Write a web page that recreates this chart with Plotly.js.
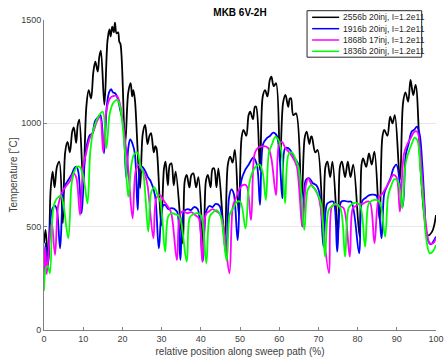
<!DOCTYPE html>
<html>
<head>
<meta charset="utf-8">
<script src="https://cdn.plot.ly/plotly-3.0.1.min.js"></script>
<style>html,body{margin:0;padding:0;background:#fff}#chart{width:445px;height:358px}</style>
</head>
<body>
<div id="chart"></div>
<script>
// ---- data ----
const seriesNames = ["2556b 20inj, I=1.2e11", "1916b 20inj, I=1.2e11", "1868b 17inj, I=1.2e11", "1836b 20inj, I=1.2e11"];
const seriesColors = ["#000000", "#0000ff", "#ff00ff", "#00ff00"];

const blackX = [0,0.4,1.1,1.7,2.2,2.7,3.3,3.9,4.8,5.4,6.0,6.6,7.2,7.6,8.2,8.6,9.0,10.0,10.8,11.4,12.0,12.6,13.1,13.7,14.1,14.5,15.4,16.2,16.7,17.0,17.4,17.8,18.1,18.5,18.9,19.2,19.5,20.7,21.5,22.1,22.5,22.8,23.2,24.5,25.2,25.8,26.4,26.9,27.3,28.0,28.4,28.7,29.9,30.6,31.0,31.6,32.1,32.5,33.1,33.6,35.4,35.9,36.4,37.1,37.6,38.1,38.8,39.4,40.7,41.3,41.8,42.5,43.0,43.4,44.0,44.5,46.1,46.9,47.5,48.1,48.7,49.7,50.4,50.9,51.6,52.2,52.6,53.3,53.8,54.1,55.1,55.8,56.4,57.0,57.6,58.0,58.6,59.2,60.2,61.0,61.6,62.3,62.7,63.0,63.6,64.3,65.7,66.5,67.0,67.7,68.1,68.3,69.2,69.8,71.2,71.8,72.3,73.0,73.6,75.0,75.5,76.0,76.8,77.5,78.2,78.9,80.5,81.0,81.4,82.2,82.9,83.6,84.3,85.6,86.3,86.8,87.6,88.3,88.9,89.5,90.8,91.6,92.2,92.9,93.5,94.2,94.8,96.0,97.0,97.9,99.0,100.0];
const blackY = [420,484,320,680,766,690,790,814,517,860,910,860,960,980,905,990,1018,716,1080,1161,1120,1250,1298,1250,1320,1352,1090,1400,1455,1420,1468,1440,1487,1436,1440,1395,1385,900,1150,1194,1130,1160,1113,686,950,992,900,940,952,860,890,879,505,780,815,700,800,806,700,766,419,720,750,690,750,758,690,740,395,720,750,690,780,782,690,782,440,800,839,810,871,556,930,968,940,1040,1056,1020,1080,1081,774,1130,1161,1130,1210,1226,1180,1194,815,1100,1137,1080,1120,1121,1040,1048,629,930,960,900,935,936,860,871,508,790,815,740,815,460,790,815,740,815,740,800,452,800,830,790,855,800,863,532,930,968,940,1032,1000,1040,726,1100,1150,1105,1210,1137,1186,798,556,458,476,556];

const blueX = [0,0.4,0.9,1.6,2.2,2.8,3.3,4.1,4.8,5.4,6.2,7.0,7.8,8.3,8.8,9.6,10.4,11.0,11.7,12.3,13.0,13.9,14.4,15.3,16.0,16.6,17.1,17.6,18.2,18.8,19.5,20.2,21.0,21.5,22.0,22.6,23.2,23.9,24.5,25.0,25.8,26.5,27.2,28.3,29.3,30.3,30.9,31.7,32.5,33.3,34.0,34.8,35.7,36.7,37.5,38.3,39.2,40.5,41.3,42.2,43.0,43.8,44.8,46.4,47.2,47.8,48.4,49.4,50.3,51.3,52.2,53.4,54.3,55.1,55.9,56.8,57.7,58.5,59.4,60.8,61.5,62.3,63.2,64.0,64.9,65.9,66.8,67.6,68.6,69.5,70.3,71.3,72.2,73.0,73.8,74.8,75.8,76.6,77.5,78.4,80.4,81.2,82.1,83.0,83.8,84.8,86.1,86.8,87.6,88.5,89.1,89.9,91.5,92.3,93.0,93.8,94.5,95.1,95.8,96.5,97.1,97.6,98.6,100.0];
const blueY = [230,420,298,520,590,602,580,395,640,700,726,750,785,790,760,565,820,900,943,950,1010,1032,1040,855,1080,1150,1165,1150,1145,1120,1060,1000,734,880,922,900,850,581,780,790,770,740,720,653,395,600,605,585,590,585,570,339,575,585,580,595,585,331,570,600,595,610,600,371,640,680,660,435,720,774,800,834,800,605,900,927,940,955,940,637,879,880,860,830,800,500,726,735,710,700,660,403,610,620,621,379,620,625,621,620,371,625,640,653,655,650,444,660,700,740,780,800,597,850,900,960,970,984,950,800,600,460,415,452];

const magentaX = [0,0.3,0.7,1.5,2.0,2.8,3.6,4.3,5.0,5.8,6.6,7.5,8.2,9.2,10.0,10.8,11.7,12.6,13.5,14.3,15.1,15.9,16.8,17.6,18.6,19.3,20.0,20.8,21.4,22.6,23.4,24.2,24.8,25.6,26.4,27.9,28.7,29.6,30.4,31.5,32.4,33.9,34.7,35.5,36.5,37.6,38.6,39.5,40.4,41.3,42.2,43.0,43.9,44.9,45.8,47.3,48.2,49.0,49.8,50.6,51.6,52.8,53.7,54.5,55.3,56.2,57.2,58.0,59.2,60.0,60.7,61.6,62.5,63.6,64.5,65.9,66.8,67.4,68.3,69.2,70.1,70.8,72.7,73.5,74.3,75.2,76.4,78.0,78.8,79.6,80.4,81.3,82.2,83.1,84.3,85.4,86.3,87.3,88.2,89.1,89.9,90.8,91.8,92.7,93.6,94.5,95.2,96.0,96.8,97.5,98.4,99.3,100.0];
const magentaY = [260,400,270,460,520,363,600,650,680,700,720,758,740,556,790,860,930,960,1010,1030,863,1060,1120,1132,1132,1100,1020,900,800,540,770,800,780,760,700,444,640,653,630,600,570,339,560,575,565,570,555,540,331,560,575,585,575,560,500,274,600,640,680,700,700,532,850,880,887,890,880,830,653,900,910,880,860,830,790,500,700,734,700,680,640,560,275,600,605,600,590,355,590,600,610,610,620,620,420,640,660,690,720,750,740,573,850,900,930,960,960,850,650,500,420,420,445];

const greenX = [0,0.5,1.0,1.5,2.2,2.8,3.5,4.3,5.0,6.2,7.0,7.6,8.4,9.1,9.8,10.4,11.1,11.8,12.5,13.3,14.1,15.0,15.9,16.8,17.7,18.7,19.4,20.0,20.7,21.5,22.3,23.0,23.8,24.5,25.3,26.6,27.4,28.2,29.0,29.7,30.9,31.7,32.6,33.5,34.5,36.4,37.2,38.1,39.0,40.0,41.4,42.3,43.2,44.0,45.0,46.6,47.4,48.3,49.2,50.1,51.4,52.3,53.1,54.0,55.0,55.8,56.6,57.4,58.2,59.0,59.8,60.6,61.5,62.4,63.2,64.1,65.0,66.4,67.3,68.2,69.1,70.0,70.8,71.7,72.6,73.5,74.4,75.6,76.8,77.7,78.6,79.5,80.6,81.9,82.8,83.6,84.5,85.6,87.0,87.8,88.6,89.4,90.3,91.4,92.2,93.0,93.8,94.5,95.2,96.0,96.8,97.6,98.4,99.2,100.0];
const greenY = [190,300,310,274,560,620,640,650,600,444,700,760,790,790,760,700,613,860,960,1010,1040,1056,880,1050,1100,1113,1080,1000,850,645,800,850,860,800,760,476,670,690,650,620,379,550,565,560,550,331,545,560,565,555,323,550,570,580,555,335,560,590,620,620,492,700,760,790,800,760,629,860,900,935,920,860,613,850,860,830,780,484,680,700,680,650,600,355,580,600,610,590,355,590,610,615,605,403,610,625,630,620,452,650,700,730,720,589,800,860,900,930,920,780,600,430,371,380,411];

const xTicks = [0,10,20,30,40,50,60,70,80,90,100];
const yTicks = [0,500,1000,1500];

// ---- drawing ----
const seriesX = [blackX, blueX, magentaX, greenX];
const seriesY = [blackY, blueY, magentaY, greenY];

const traces = seriesNames.map((name, i) => ({
  type: 'scatter', mode: 'lines', name: name,
  x: seriesX[i], y: seriesY[i],
  line: {color: seriesColors[i], width: 1.8, shape: 'spline', smoothing: 1},
  showlegend: false, hoverinfo: 'skip'
}));

const font = 'Liberation Sans, Arial, Helvetica, sans-serif';
// manual legend (paper coordinates)
const legX0 = 0.671, legX1 = 0.9635, legY0 = 0.880, legY1 = 1.030;
const rowY = [1.0087, 0.9720, 0.9355, 0.8990];
const shapes = [{type: 'rect', xref: 'paper', yref: 'paper', x0: legX0, x1: legX1, y0: legY0, y1: legY1,
  line: {color: '#262626', width: 1}, fillcolor: '#ffffff', layer: 'above'}];
const annotations = [];
seriesNames.forEach((name, i) => {
  shapes.push({type: 'line', xref: 'paper', yref: 'paper', x0: 0.684, x1: 0.753, y0: rowY[i], y1: rowY[i],
    line: {color: seriesColors[i], width: 1.5}, layer: 'above'});
  annotations.push({xref: 'paper', yref: 'paper', x: 0.758, y: rowY[i], text: name, showarrow: false,
    xanchor: 'left', yanchor: 'middle', font: {family: font, size: 8.5, color: '#262626'}});
});

const layout = {
  width: 445, height: 358,
  margin: {l: 44, r: 9, t: 20, b: 28, pad: 0},
  paper_bgcolor: '#ffffff', plot_bgcolor: '#ffffff',
  font: {family: font, size: 9, color: '#404040'},
  title: {text: '<b>MKB 6V-2H</b>', x: 0.5, xref: 'paper', xanchor: 'center', y: 0.9645, yref: 'container', yanchor: 'middle',
    font: {family: font, size: 10, color: '#000000'}},
  xaxis: {range: [0, 100], tickvals: xTicks, ticktext: xTicks.map(String), showgrid: false, zeroline: false,
    showline: true, linecolor: '#808080', linewidth: 1, ticks: 'inside', ticklen: 3, tickcolor: '#808080',
    tickfont: {family: font, size: 9, color: '#404040'},
    title: {text: 'relative position along sweep path (%)', font: {family: font, size: 10, color: '#404040'}, standoff: 5}},
  yaxis: {range: [0, 1500], tickvals: yTicks, ticktext: yTicks.map(String), showgrid: true, gridcolor: '#e8e8e8', gridwidth: 1,
    zeroline: false, showline: true, linecolor: '#808080', linewidth: 1, ticks: 'inside', ticklen: 3, tickcolor: '#808080',
    tickfont: {family: font, size: 9, color: '#404040'},
    title: {text: 'Temperature [˚C]', font: {family: font, size: 10, color: '#404040'}, standoff: 1}},
  shapes: shapes, annotations: annotations, showlegend: false
};

Plotly.newPlot('chart', traces, layout, {staticPlot: true, displayModeBar: false});
</script>
</body>
</html>
